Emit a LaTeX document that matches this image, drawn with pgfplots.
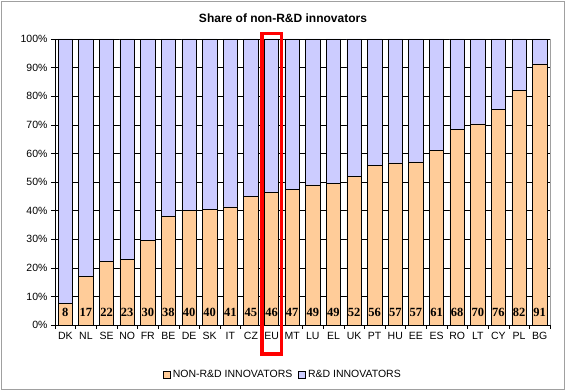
\documentclass[border=0pt]{standalone}
\usepackage{pgfplots}
\pgfplotsset{compat=1.18}
\usepackage{pgfplotstable}
\usepackage{fontspec}
\setmainfont{Liberation Sans}
\newfontfamily\lblfont{Liberation Serif}
\definecolor{nonrd}{HTML}{FFCC99}
\definecolor{rd}{HTML}{CCCCFF}
\definecolor{framec}{HTML}{A0A0A0}
\pgfplotstableread{
x non rd lbl ly
0 7.5 92.5 8 4.5
1 17 83 17 4.5
2 22.3 77.7 22 4.5
3 23 77 23 4.5
4 29.5 70.5 30 4.5
5 38 62 38 4.5
6 40 60 40 4.5
7 40.3 59.7 40 4.5
8 41.3 58.7 41 4.5
9 45 55 45 4.5
10 46.5 53.5 46 4.5
11 47.5 52.5 47 4.5
12 49 51 49 4.5
13 49.5 50.5 49 4.5
14 52 48 52 4.5
15 55.7 44.3 56 4.5
16 56.7 43.3 57 4.5
17 57 43 57 4.5
18 61 39 61 4.5
19 68.3 31.7 68 4.5
20 70.3 29.7 70 4.5
21 75.5 24.5 76 4.5
22 82 18 82 4.5
23 91.3 8.7 91 4.5
}\data
\begin{document}
\begin{tikzpicture}
\useasboundingbox (0pt,0pt) rectangle (566pt,391pt);
\fill[white] (0pt,0pt) rectangle (566pt,391pt);
\draw[framec, line width=1.5pt] (1.5pt,1.5pt) rectangle (564.5pt,389.5pt);
\begin{axis}[
  at={(55pt,66pt)}, anchor=south west, scale only axis,
  width=495pt, height=286pt,
  ybar stacked, bar width=0.7,
  xmin=-0.5, xmax=23.5, ymin=0, ymax=100,
  ytick={0,10,...,100},
  yticklabel={\pgfmathprintnumber{\tick}\%},
  /pgf/number format/assume math mode=true,
  xtick={-0.5,0.5,...,23.5},
  x tick label as interval,
  xticklabels={DK,NL,SE,NO,FR,BE,DE,SK,IT,CZ,EU,MT,LU,EL,UK,PT,HU,EE,ES,RO,LT,CY,PL,BG},
  axis x line*=bottom, axis y line*=left,
  axis line style={-,black},
  tick align=outside, major tick length=4pt,
  tick style={black, thin},
  ymajorgrids, major grid style={black, thin},
  tick label style={font=\fontsize{10.5}{12}\selectfont},
  title={Share of non-R\&D innovators},
  title style={font=\bfseries\fontsize{12}{14}\selectfont, at={(0.5,1)}, anchor=center, yshift=14.5pt, xshift=-19.5pt},
  legend style={at={(0.5,-0.175)}, anchor=center, xshift=-19.5pt, draw=none, fill=none,
    font=\fontsize{10.5}{12}\selectfont, /tikz/every even column/.append style={column sep=4pt}},
  legend columns=2,
  legend image code/.code={\draw[#1, draw=black] (0pt,-3.5pt) rectangle (7pt,3.5pt);},
  clip=false,
]
\addplot[fill=nonrd, draw=black, line width=0.6pt] table[x=x, y=non] {\data};
\addplot[fill=rd, draw=black, line width=0.6pt] table[x=x, y=rd] {\data};
\legend{NON-R\&D INNOVATORS, R\&D INNOVATORS}
\draw[framec] (rel axis cs:1,0) -- (rel axis cs:1,1);
\draw[red, line width=3.5pt] (axis cs:9.53,-10.1) rectangle (axis cs:10.47,101.9);
\end{axis}
\begin{axis}[
  at={(55pt,66pt)}, anchor=south west, scale only axis,
  width=495pt, height=286pt,
  xmin=-0.5, xmax=23.5, ymin=0, ymax=100, hide axis,
]
\addplot[draw=none, nodes near coords, point meta=explicit symbolic,
  every node near coord/.style={anchor=center, inner sep=0pt, font=\lblfont\bfseries\fontsize{12.5}{13}\selectfont}]
  table[x=x, y=ly, meta=lbl] {\data};
\end{axis}
\end{tikzpicture}
\end{document}
